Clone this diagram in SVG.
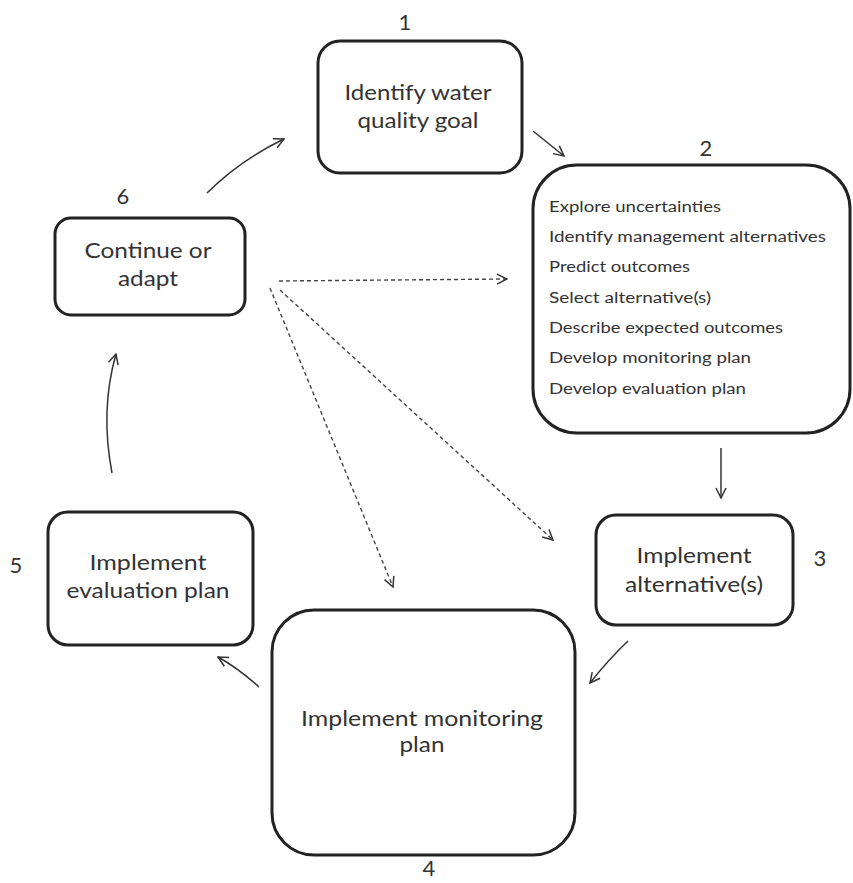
<svg xmlns="http://www.w3.org/2000/svg" width="853" height="883" viewBox="0 0 853 883">
<style>
.box{fill:#fff;stroke:#222;stroke-width:3}
.t{font-family:Lato,"Open Sans","Liberation Sans",sans-serif;fill:#333;font-size:21px;text-anchor:middle}
.l{font-family:Lato,"Open Sans","Liberation Sans",sans-serif;fill:#333;font-size:15.5px}
.num{font-family:Lato,"Open Sans","Liberation Sans",sans-serif;fill:#333;font-size:22px;text-anchor:middle}
.c{fill:none;stroke:#333;stroke-width:1.5}
.d{fill:none;stroke:#444;stroke-width:1.4;stroke-dasharray:4 3}
</style>
<defs>
<marker id="ah" viewBox="0 0 12 12" refX="11" refY="6" markerWidth="12" markerHeight="12" orient="auto" markerUnits="userSpaceOnUse">
<path d="M1,1 L11,6 L1,11" fill="none" stroke="#333" stroke-width="1.5"/>
</marker>
</defs>
<rect width="853" height="883" fill="#fff"/>

<g id="connectors">
<path class="c" d="M207,193 Q240,160 284,139" marker-end="url(#ah)"/>
<path class="c" d="M533,131 L564,156" marker-end="url(#ah)"/>
<path class="c" d="M721,448 L721,498" marker-end="url(#ah)"/>
<path class="c" d="M628,641 Q608,660 590,683" marker-end="url(#ah)"/>
<path class="c" d="M259,687 Q238,668 218,657" marker-end="url(#ah)"/>
<path class="c" d="M112,473 Q100,410 116,354" marker-end="url(#ah)"/>
<path class="d" d="M279,281 L507,279" marker-end="url(#ah)"/>
<path class="d" d="M280,290 L553,540" marker-end="url(#ah)"/>
<path class="d" d="M270,288 L393,587" marker-end="url(#ah)"/>
</g>

<g id="node1">
<rect class="box" x="318" y="41" width="204" height="132" rx="22"/>
<text class="t" x="418" y="100" textLength="147" lengthAdjust="spacingAndGlyphs">Identify water</text>
<text class="t" x="418" y="128" textLength="121" lengthAdjust="spacingAndGlyphs">quality goal</text>
<text class="num" x="405" y="30">1</text>
</g>

<g id="node2">
<rect class="box" x="533" y="165" width="317" height="268" rx="44"/>
<text class="num" x="706" y="156">2</text>
<text class="l" x="549" y="212" textLength="172" lengthAdjust="spacingAndGlyphs">Explore uncertainties</text>
<text class="l" x="549" y="242" textLength="277" lengthAdjust="spacingAndGlyphs">Identify management alternatives</text>
<text class="l" x="549" y="272" textLength="141" lengthAdjust="spacingAndGlyphs">Predict outcomes</text>
<text class="l" x="549" y="303" textLength="162" lengthAdjust="spacingAndGlyphs">Select alternative(s)</text>
<text class="l" x="549" y="333" textLength="234" lengthAdjust="spacingAndGlyphs">Describe expected outcomes</text>
<text class="l" x="549" y="363" textLength="202" lengthAdjust="spacingAndGlyphs">Develop monitoring plan</text>
<text class="l" x="549" y="394" textLength="197" lengthAdjust="spacingAndGlyphs">Develop evaluation plan</text>
</g>

<g id="node3">
<rect class="box" x="596" y="515" width="197" height="110" rx="20"/>
<text class="t" x="694" y="563" textLength="115" lengthAdjust="spacingAndGlyphs">Implement</text>
<text class="t" x="694" y="592" textLength="138" lengthAdjust="spacingAndGlyphs">alternative(s)</text>
<text class="num" x="820" y="566">3</text>
</g>

<g id="node4">
<rect class="box" x="272" y="610" width="303" height="245" rx="42"/>
<text class="t" x="422" y="726" textLength="242" lengthAdjust="spacingAndGlyphs">Implement monitoring</text>
<text class="t" x="422" y="752" textLength="45" lengthAdjust="spacingAndGlyphs">plan</text>
<text class="num" x="429" y="876">4</text>
</g>

<g id="node5">
<rect class="box" x="48" y="512" width="205" height="133" rx="20"/>
<text class="t" x="148" y="570" textLength="117" lengthAdjust="spacingAndGlyphs">Implement</text>
<text class="t" x="148" y="598" textLength="163" lengthAdjust="spacingAndGlyphs">evaluation plan</text>
<text class="num" x="16" y="573">5</text>
</g>

<g id="node6">
<rect class="box" x="55" y="218" width="190" height="97" rx="16"/>
<text class="t" x="148" y="258" textLength="127" lengthAdjust="spacingAndGlyphs">Continue or</text>
<text class="t" x="148" y="286" textLength="60" lengthAdjust="spacingAndGlyphs">adapt</text>
<text class="num" x="123" y="204">6</text>
</g>
</svg>
